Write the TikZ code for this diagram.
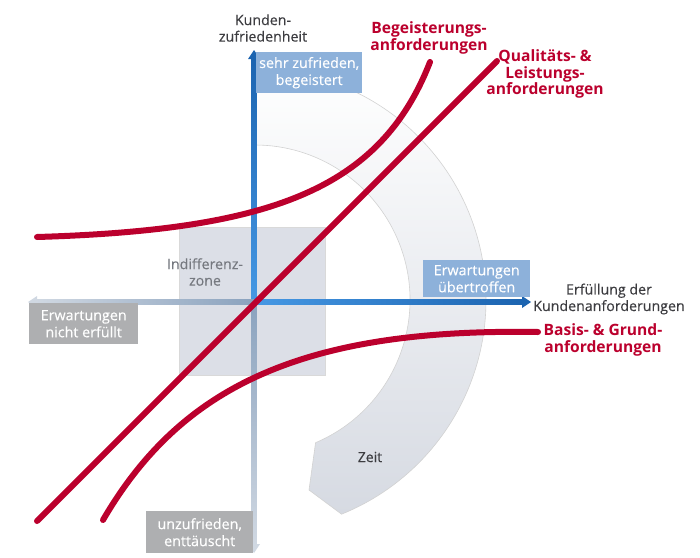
\documentclass[tikz,border=0pt]{standalone}
\usepackage{fontspec}
\setmainfont{Open Sans}
\newfontfamily\semifont[FakeBold=0.3]{Open Sans}
\usetikzlibrary{arrows.meta,calc,positioning}
\definecolor{darkred}{RGB}{187,0,45}
\definecolor{axisblue}{RGB}{28,100,176}
\definecolor{lightblue}{RGB}{70,152,228}
\definecolor{axisgray}{RGB}{138,162,190}
\definecolor{palegray}{RGB}{208,216,226}
\definecolor{boxblue}{RGB}{141,177,218}
\definecolor{boxgray}{RGB}{174,175,177}
\definecolor{zonegray}{RGB}{220,223,231}
\definecolor{zeitgray}{RGB}{214,218,226}
\definecolor{textgray}{RGB}{60,60,64}
\definecolor{zonetext}{RGB}{118,121,128}
\begin{document}
\begin{tikzpicture}[x=1pt,y=-1pt,
    curve/.style={line width=6pt,draw=darkred,line cap=round},
    redlabel/.style={text=darkred,font=\fontsize{15.6}{16.8}\selectfont\bfseries,align=center,inner sep=0pt},
    axislabel/.style={text=textgray,font=\semifont\fontsize{14.2}{16.5}\selectfont,align=center,inner sep=0pt},
    tag/.style={text=white,font=\semifont\fontsize{14.3}{17}\selectfont,align=center,inner sep=0pt,anchor=north west}]
                \useasboundingbox (0,0) rectangle (700,557);
                \def\r{155}
                \def\R{231}
                \coordinate (C) at (255,300);
                \coordinate (O) at (254,302);
                \coordinate (ytop) at (254,50);
                \coordinate (ybot) at (254,553);
                \coordinate (xleft) at (28,302);
                \coordinate (xright) at (531,302);
                %Zeit
                \shade[top color=white,bottom color=zeitgray] ($(C)+(-90:\R)$) arc[start angle=-90,end angle=68,radius=\R]
                    -- (309,490) -- ($(C)+(67:\r)$) arc[start angle=67,end angle=-90,radius=\r] -- cycle;
                \draw[gray!35,line width=0.6pt] ($(C)+(-90:\R)$) arc[start angle=-90,end angle=68,radius=\R]
                    -- (309,490) -- ($(C)+(67:\r)$) arc[start angle=67,end angle=-90,radius=\r];
                \node[text=textgray,font=\semifont\fontsize{14}{16}\selectfont] (zeit) at (370,457) {Zeit};
                %Indifferenzzone
                \draw[fill=zonegray,draw=gray!30] (179,227) rectangle (325,375);
                \node[text=zonetext,font=\semifont\fontsize{14.2}{16.5}\selectfont,align=center] (zone) at (205,272) {Indifferenz-\\zone};
                %Axis
                \shade[top color=axisblue,bottom color=lightblue] ($(ytop)+(-2.5,8)$) rectangle ($(O)+(2.5,0)$);
                \shade[top color=axisgray,bottom color=palegray] ($(O)+(-2.5,0)$) rectangle ($(ybot)+(2.5,-8)$);
                \shade[left color=palegray,right color=axisgray] ($(xleft)+(8,-2.5)$) rectangle ($(O)+(0,2.5)$);
                \shade[left color=lightblue,right color=axisblue] ($(O)+(0,-2.5)$) rectangle ($(xright)+(-8,2.5)$);
                \fill[axisblue] (ytop) -- ++(-6,9) -- ++(12,0) -- cycle;
                \fill[axisblue] (xright) -- ++(-9,-6) -- ++(0,12) -- cycle;
                \fill[palegray] (ybot) -- ++(-6,-9) -- ++(12,0) -- cycle;
                \fill[palegray] (xleft) -- ++(9,-6) -- ++(0,12) -- cycle;
                %Tags
                \node[tag,fill=boxblue,minimum width=106,minimum height=41] (sehr) at (256,52) {sehr zufrieden,\\begeistert};
                \node[tag,fill=boxblue,minimum width=107,minimum height=37] (ueber) at (423,260) {Erwartungen\\übertroffen};
                \node[tag,fill=boxgray,minimum width=109,minimum height=41] (nicht) at (29,303) {Erwartungen\\nicht erfüllt};
                \node[tag,fill=boxgray,minimum width=107,minimum height=42] (unzu) at (146,511) {unzufrieden,\\enttäuscht};
                %Curves
                \draw[curve] (37,237) .. controls (270,230) and (380,190) .. (430,62);
                \draw[curve] (37,521) -- (497,61);
                \draw[curve] (103,520) .. controls (180,388) and (300,328) .. (538,332);
                %Labels
                \node[axislabel] (kz) at (263,28) {Kunden-\\zufriedenheit};
                \node[axislabel] (ek) at (609,299) {Erfüllung der\\Kundenanforderungen};
                \node[redlabel] (beg) at (429,38) {Begeisterungs-\\anforderungen};
                \node[redlabel] (qual) at (545,74) {Qualitäts- \&\\Leistungs-\\anforderungen};
                \node[redlabel] (basis) at (603,340) {Basis- \& Grund-\\anforderungen};
            \end{tikzpicture}
\end{document}
